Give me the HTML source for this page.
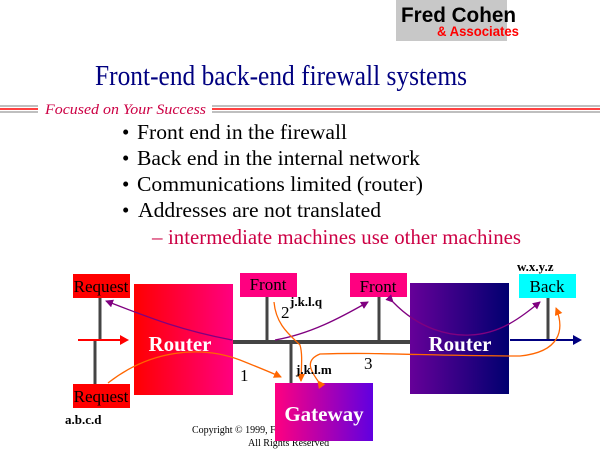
<!DOCTYPE html>
<html><head><meta charset="utf-8"><style>html,body{margin:0;padding:0;background:#fff}svg{display:block}</style></head><body>
<svg width="600" height="450" viewBox="0 0 600 450" xmlns="http://www.w3.org/2000/svg" font-family="Liberation Serif, serif">
<defs>
<linearGradient id="r1" x1="0" x2="1"><stop offset="0" stop-color="#ff0000"/><stop offset="1" stop-color="#ff0080"/></linearGradient>
<linearGradient id="r2" x1="0" x2="1"><stop offset="0" stop-color="#660099"/><stop offset="1" stop-color="#000070"/></linearGradient>
<linearGradient id="gw" x1="0" x2="1"><stop offset="0" stop-color="#ff0080"/><stop offset="1" stop-color="#6000e0"/></linearGradient>
<marker id="ap" markerWidth="8" markerHeight="8" refX="7" refY="4" orient="auto" markerUnits="userSpaceOnUse"><path d="M0,0 L8,4 L0,8z" fill="#800080"/></marker>
<marker id="ao" markerWidth="8" markerHeight="8" refX="7" refY="4" orient="auto" markerUnits="userSpaceOnUse"><path d="M0,0 L8,4 L0,8z" fill="#ff6600"/></marker>
</defs>
<rect x="396" y="0" width="111" height="41" fill="#c8c8c8"/>
<text x="401" y="22" font-family="Liberation Sans, sans-serif" font-weight="bold" font-size="21" textLength="115" lengthAdjust="spacingAndGlyphs">Fred Cohen</text>
<text x="437" y="36" font-family="Liberation Sans, sans-serif" font-weight="bold" font-size="14" fill="#ff0000" textLength="82" lengthAdjust="spacingAndGlyphs">&amp; Associates</text>
<text x="95" y="85" font-size="29" fill="#000080" textLength="372" lengthAdjust="spacingAndGlyphs">Front-end back-end firewall systems</text>
<g stroke-width="1.5">
<line x1="0" y1="106" x2="38" y2="106" stroke="#aaa"/><line x1="0" y1="109" x2="38" y2="109" stroke="#f00"/><line x1="0" y1="112" x2="38" y2="112" stroke="#aaa"/>
<line x1="212" y1="106" x2="600" y2="106" stroke="#aaa"/><line x1="212" y1="109" x2="600" y2="109" stroke="#f00"/><line x1="212" y1="112" x2="600" y2="112" stroke="#aaa"/>
</g>
<text x="45" y="114" font-size="15" font-style="italic" fill="#cc0044" textLength="161" lengthAdjust="spacingAndGlyphs">Focused on Your Success</text>
<g font-size="21">
<text x="122" y="139">•</text><text x="137" y="139" textLength="210" lengthAdjust="spacingAndGlyphs">Front end in the firewall</text>
<text x="122" y="165">•</text><text x="137" y="165" textLength="283" lengthAdjust="spacingAndGlyphs">Back end in the internal network</text>
<text x="122" y="191">•</text><text x="137" y="191" textLength="286" lengthAdjust="spacingAndGlyphs">Communications limited (router)</text>
<text x="122" y="217">•</text><text x="138" y="217" textLength="243" lengthAdjust="spacingAndGlyphs">Addresses are not translated</text>
<text x="152" y="244" fill="#cc0044">–</text><text x="168" y="244" fill="#cc0044" textLength="353" lengthAdjust="spacingAndGlyphs">intermediate machines use other machines</text>
</g>
<text x="192" y="433" font-size="10">Copyright © 1999, Fred Cohen &amp; Associates</text>
<text x="248" y="446" font-size="10">All Rights Reserved</text>
<g stroke="#444" stroke-width="3">
<line x1="100" y1="298" x2="100" y2="340"/><line x1="95" y1="340" x2="95" y2="384"/>
<line x1="267" y1="297" x2="267" y2="341"/><line x1="379" y1="297" x2="379" y2="341"/>
<line x1="291" y1="341" x2="291" y2="384"/><line x1="548" y1="298" x2="548" y2="340"/>
</g>
<line x1="230" y1="342" x2="411" y2="342" stroke="#444" stroke-width="4"/>
<line x1="78" y1="340" x2="122" y2="340" stroke="#f00" stroke-width="2"/><path d="M120,335 L129,340 L120,345z" fill="#f00"/>
<line x1="510" y1="340" x2="575" y2="340" stroke="#000080" stroke-width="2"/><path d="M573,335 L582,340 L573,345z" fill="#000080"/>
<rect x="73" y="274" width="57" height="24" fill="#f00"/><text x="101" y="292" font-size="17" text-anchor="middle">Request</text>
<rect x="73" y="384" width="57" height="24" fill="#f00"/><text x="101" y="402" font-size="17" text-anchor="middle">Request</text>
<rect x="240" y="273" width="57" height="24" fill="#ff0080"/><text x="268" y="290" font-size="17" text-anchor="middle">Front</text>
<rect x="350" y="273" width="57" height="24" fill="#ff0080"/><text x="378" y="292" font-size="17" text-anchor="middle">Front</text>
<rect x="519" y="274" width="57" height="24" fill="#00ffff"/><text x="547" y="292" font-size="17" text-anchor="middle">Back</text>
<rect x="134" y="284" width="99" height="111" fill="url(#r1)"/><text x="180" y="351" font-size="21" font-weight="bold" fill="#fff" text-anchor="middle">Router</text>
<rect x="410" y="283" width="99" height="111" fill="url(#r2)"/><text x="460" y="351" font-size="21" font-weight="bold" fill="#fff" text-anchor="middle">Router</text>
<rect x="275" y="383" width="98" height="58" fill="url(#gw)"/><text x="324" y="421" font-size="21" font-weight="bold" fill="#fff" text-anchor="middle">Gateway</text>
<g fill="none" stroke-width="1.3">
<path d="M232,340 C180,330 150,318 106,301" stroke="#800080" marker-end="url(#ap)"/>
<path d="M275,340 C310,334 340,318 368,302" stroke="#800080" marker-end="url(#ap)"/>
<path d="M393,302 C420,330 450,336 470,335 C500,334 520,318 540,302" stroke="#800080" marker-start="url(#ap)" marker-end="url(#ap)"/>
<path d="M108,383 C150,350 200,345 240,360 C255,366 270,372 281,377" stroke="#ff6600" marker-end="url(#ao)"/>
<path d="M274,302 C276,325 290,335 300,345 C303,355 301,370 301,381" stroke="#ff6600" marker-end="url(#ao)"/>
<path d="M318,381 C310,370 305,360 320,354 C380,352 430,356 520,356 C560,352 565,330 556,308" stroke="#ff6600" marker-start="url(#ao)" marker-end="url(#ao)"/>
</g>
<g font-size="13" font-weight="bold">
<text x="290" y="306">j.k.l.q</text><text x="296" y="374">j.k.l.m</text>
<text x="517" y="271">w.x.y.z</text><text x="65" y="424">a.b.c.d</text>
</g>
<g font-size="17"><text x="281" y="318">2</text><text x="240" y="381">1</text><text x="364" y="369">3</text></g>
</svg>
</body></html>
